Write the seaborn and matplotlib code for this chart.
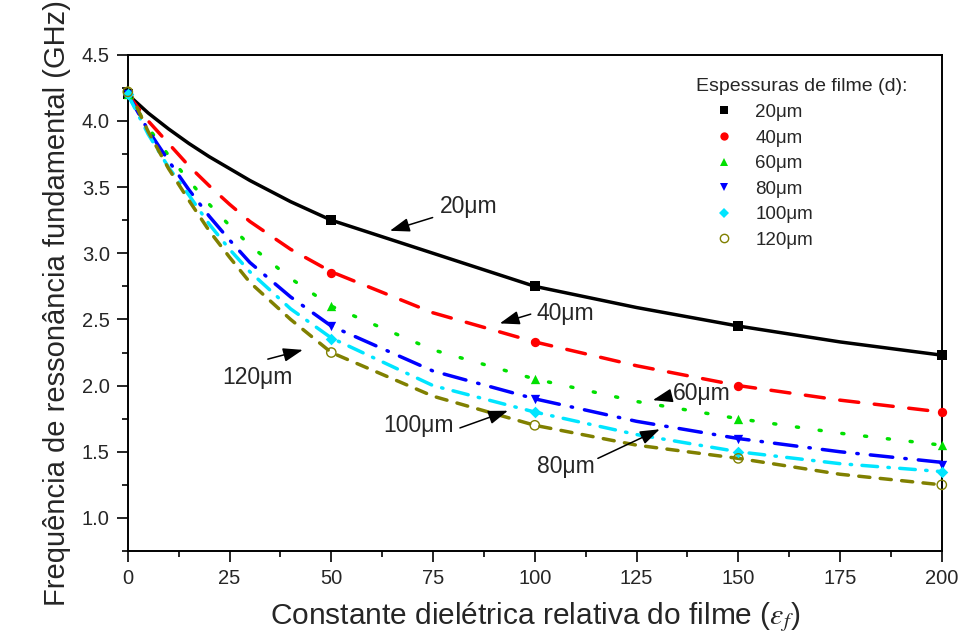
#!/usr/bin/env python3
"""Resonance frequency vs. film dielectric constant for several film thicknesses."""

import matplotlib
matplotlib.use("Agg")
import matplotlib.pyplot as plt
import pandas as pd
import seaborn as sns
from matplotlib.lines import Line2D
from matplotlib.ticker import MultipleLocator

# simulated points (markers)
eps_points = [0, 50, 100, 150, 200]
f_points = {
    "20μm": [4.20, 3.25, 2.75, 2.45, 2.23],
    "40μm": [4.20, 2.85, 2.33, 2.00, 1.80],
    "60μm": [4.20, 2.60, 2.05, 1.75, 1.55],
    "80μm": [4.20, 2.45, 1.90, 1.60, 1.40],
    "100μm": [4.20, 2.35, 1.80, 1.50, 1.35],
    "120μm": [4.22, 2.25, 1.70, 1.45, 1.25],
}

# fitted curves
eps_curve = [0, 5, 10, 15, 20, 25, 30, 40, 50, 75, 100, 125, 150, 175, 200]
f_curve = {
    "20μm": [4.20, 4.06, 3.94, 3.83, 3.73, 3.64, 3.55, 3.39, 3.25, 3.00, 2.75, 2.59, 2.45, 2.33, 2.23],
    "40μm": [4.20, 4.00, 3.83, 3.66, 3.51, 3.37, 3.24, 3.03, 2.86, 2.55, 2.33, 2.15, 2.00, 1.89, 1.80],
    "60μm": [4.20, 3.95, 3.74, 3.55, 3.37, 3.21, 3.06, 2.81, 2.60, 2.27, 2.05, 1.88, 1.75, 1.64, 1.55],
    "80μm": [4.20, 3.93, 3.70, 3.48, 3.28, 3.10, 2.93, 2.67, 2.45, 2.11, 1.90, 1.73, 1.60, 1.50, 1.42],
    "100μm": [4.20, 3.90, 3.65, 3.44, 3.22, 3.03, 2.86, 2.58, 2.36, 2.00, 1.80, 1.63, 1.50, 1.41, 1.35],
    "120μm": [4.25, 3.92, 3.64, 3.40, 3.17, 2.97, 2.78, 2.50, 2.25, 1.92, 1.70, 1.55, 1.45, 1.33, 1.25],
}

colors = ["#000000", "#ff0000", "#00e000", "#0000ff", "#00e5ff", "#808000"]
markers = ["s", "o", "^", "v", "D", "o"]
linestyles = [
    "-",
    (0, (5.5, 4.5)),
    (0, (0.6, 6.0)),
    (0, (6.5, 3.5, 0.4, 3.5)),
    (0, (4.5, 3.0, 0.4, 3.0)),
    (0, (3.2, 3.0)),
]

sns.set_theme(style="ticks")
plt.rcParams["font.family"] = ["Liberation Sans", "DejaVu Sans"]
plt.rcParams["mathtext.fontset"] = "stix"

fig = plt.figure(figsize=(9.61, 6.37), dpi=100)
ax = fig.add_axes([0.133, 0.135, 0.847, 0.779])

for i, name in enumerate(f_curve):
    curve = pd.DataFrame({"eps": eps_curve, "f": f_curve[name]})
    sns.lineplot(data=curve, x="eps", y="f", ax=ax, color=colors[i], lw=2.5,
                 linestyle=linestyles[i], dash_capstyle="round", solid_capstyle="round",
                 zorder=3 + i)
    pts = pd.DataFrame({"eps": eps_points, "f": f_points[name]})
    hollow = i == 5
    sns.scatterplot(data=pts, x="eps", y="f", ax=ax, marker=markers[i],
                    color="none" if hollow else colors[i],
                    edgecolor=colors[i], linewidth=1.0 if hollow else 0,
                    s=45 if i != 4 else 35, zorder=10, clip_on=False)

ax.set_xlim(0, 200)
ax.set_ylim(0.75, 4.5)
ax.xaxis.set_major_locator(MultipleLocator(25))
ax.xaxis.set_minor_locator(MultipleLocator(12.5))
ax.yaxis.set_minor_locator(MultipleLocator(0.25))
ax.set_yticks([1.0, 1.5, 2.0, 2.5, 3.0, 3.5, 4.0, 4.5])
ax.set_yticklabels([f"{v:.1f}" for v in ax.get_yticks()])
ax.tick_params(which="major", direction="out", length=8, width=1.4, labelsize=14.5,
               top=False, right=False, pad=5)
ax.tick_params(which="minor", direction="out", length=4.5, width=1.4, top=False, right=False)
for sp in ax.spines.values():
    sp.set_linewidth(1.4)
    sp.set_color("black")

ax.set_xlabel(r"Constante dielétrica relativa do filme ($\varepsilon_f$)", fontsize=21.5, labelpad=9)
ax.set_ylabel("Frequência de ressonância fundamental (GHz)", fontsize=21, labelpad=8)

# annotations: label, text pos, arrow tail, arrow tip
notes = [
    ("20μm", (76.7, 3.35), (74.9, 3.27), (64.4, 3.17)),
    ("40μm", (100.5, 2.545), (99.0, 2.54), (91.4, 2.47)),
    ("60μm", (134.0, 1.94), (133.0, 1.92), (129.0, 1.89)),
    ("80μm", (100.5, 1.39), (115.5, 1.45), (130.7, 1.67)),
    ("100μm", (62.7, 1.70), (81.6, 1.68), (93.4, 1.81)),
    ("120μm", (23.3, 2.06), (34.4, 2.20), (43.0, 2.27)),
]
for label, tpos, tail, tip in notes:
    ax.text(tpos[0], tpos[1], label, fontsize=16.5, ha="left", va="center", zorder=20)
    ax.annotate("", xy=tip, xytext=tail,
                arrowprops=dict(arrowstyle="-|>,head_length=1.0,head_width=0.35",
                                color="black", lw=1.1, shrinkA=0, shrinkB=0),
                zorder=20)

handles = []
for i, name in enumerate(f_points):
    hollow = i == 5
    handles.append(Line2D([], [], linestyle="none", marker=markers[i],
                          markerfacecolor="none" if hollow else colors[i],
                          markeredgecolor=colors[i], markersize=6 if i != 4 else 5.5,
                          markeredgewidth=1.0 if hollow else 0, label=name))
leg = ax.legend(handles=handles, title="Espessuras de filme (d):", loc="upper right",
                bbox_to_anchor=(0.972, 0.975), frameon=False, fontsize=13.5,
                title_fontsize=14, handletextpad=0.15, handlelength=3.0,
                labelspacing=0.45, borderaxespad=0.2)
leg._legend_box.align = "left"

fig.savefig("out.png", dpi=100)
